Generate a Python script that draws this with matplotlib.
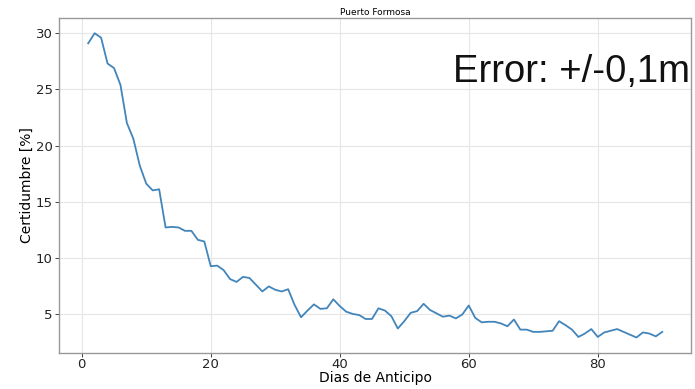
import matplotlib
matplotlib.use("Agg")
import matplotlib.pyplot as plt

# Certainty per day of anticipation
dias = list(range(1, 91))
certidumbre = [
    29.1, 30.0, 29.6, 27.3, 26.9, 25.4, 22.0, 20.6, 18.2, 16.6,
    16.0, 16.1, 12.7, 12.75, 12.7, 12.4, 12.4, 11.6, 11.45, 9.25,
    9.3, 8.9, 8.1, 7.85, 8.3, 8.2, 7.6, 7.0, 7.45, 7.15,
    7.0, 7.2, 5.8, 4.7, 5.3, 5.85, 5.45, 5.5, 6.3, 5.7,
    5.2, 5.0, 4.9, 4.55, 4.55, 5.5, 5.3, 4.8, 3.7, 4.35,
    5.1, 5.25, 5.9, 5.35, 5.05, 4.75, 4.85, 4.6, 4.95, 5.75,
    4.65, 4.25, 4.3, 4.3, 4.15, 3.9, 4.5, 3.6, 3.6, 3.4,
    3.4, 3.45, 3.5, 4.35, 4.0, 3.6, 2.95, 3.25, 3.65, 2.95,
    3.35, 3.5, 3.65, 3.4, 3.15, 2.9, 3.35, 3.25, 3.0, 3.4,
]

titulo = "Puerto Formosa"
etiqueta_x = "Dias de Anticipo"
etiqueta_y = "Certidumbre [%]"
nota = "Error: +/-0,1m"

fig = plt.figure(figsize=(6.95, 3.89), dpi=100)
ax = fig.add_axes([0.0856, 0.0933, 0.9086, 0.8604])

ax.plot(dias, certidumbre, color="#4285bb", linewidth=1.3)

ax.set_title(titulo, fontsize=6.5, pad=2)
ax.set_xlabel(etiqueta_x, fontsize=10, labelpad=0)
ax.set_ylabel(etiqueta_y, fontsize=10, labelpad=1)
ax.tick_params(labelsize=9.5, colors="#222222", length=3, width=0.6, pad=2)
ax.tick_params(axis="x", pad=1)
ax.set_xticks([0, 20, 40, 60, 80])
ax.set_yticks([5, 10, 15, 20, 25, 30])

ax.grid(True, color="#e6e6e6", linewidth=0.8)
ax.set_axisbelow(True)
for s in ax.spines.values():
    s.set_color("#999999")
    s.set_linewidth(1.0)

ax.text(0.623, 0.84, nota, transform=ax.transAxes, fontsize=27.5,
        family="Liberation Sans", va="center", ha="left", color="#111111")

fig.savefig("out.png", dpi=100)
